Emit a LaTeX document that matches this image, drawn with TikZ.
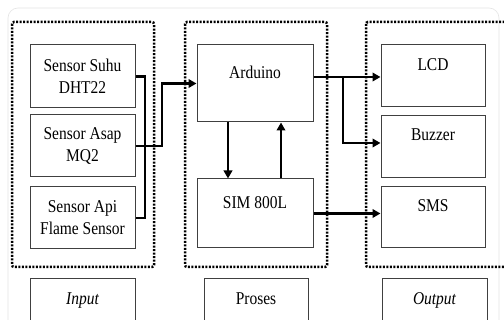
\documentclass[tikz,border=0pt]{standalone}
\usepackage{fontspec}
\setmainfont{Liberation Serif}[FakeStretch=0.86]
\usetikzlibrary{calc,arrows.meta}

\tikzset{
	blok/.style={draw=black!75, line width=1pt, inner sep=0pt, align=center, font=\fontsize{18}{22}\selectfont},
	teks/.style={anchor=base, inner sep=0pt, font=\fontsize{18}{22}\selectfont},
	kelompok/.style={line width=2.5pt, dash pattern=on 2pt off 1.5pt, rounded corners=2pt},
	garis/.style={line width=2.8pt},
	panah/.style={line width=2.8pt, -{Triangle[length=8pt,width=8.5pt]}}
}

\begin{document}
\begin{tikzpicture}[x=1pt,y=-1pt]
		%%%%% START %%%%%
		
		\useasboundingbox (0, 0) rectangle (504, 320);
		\fill[white] (0, 0) rectangle (504, 320);
		\clip (0, 0) rectangle (504, 320);
		\draw[line width=0.6pt, color=black!10, rounded corners=10pt] (8, 8) rectangle (499, 340);
		
		\draw[kelompok] (12, 22) rectangle (154, 267);
		\draw[kelompok] (185, 22) rectangle (327, 267);
		\draw[kelompok] (366, 22) rectangle (520, 267);
		
		\node[blok, minimum width=105, minimum height=63] (suhu) at (82.5, 76.5) {Sensor Suhu\\DHT22};
		\node[blok, minimum width=105, minimum height=62] (asap) at (82.5, 146) {Sensor Asap\\MQ2};
		\node[blok, minimum width=105, minimum height=62] (api) at (82.5, 218) {Sensor Api\\Flame Sensor};
		
		\node[blok, minimum width=116, minimum height=77] (arduino) at (255, 83.5) {};
		\node[teks] (tarduino) at (255, 79) {Arduino};
		\node[blok, minimum width=116, minimum height=69] (sim) at (255, 213.5) {};
		\node[teks] (tsim) at (255, 209) {SIM 800L};
		
		\node[blok, minimum width=104, minimum height=62] (lcd) at (433, 76) {};
		\node[teks] (tlcd) at (433, 71) {LCD};
		\node[blok, minimum width=104, minimum height=62] (buzzer) at (433, 147) {};
		\node[teks] (tbuzzer) at (433, 141) {Buzzer};
		\node[blok, minimum width=104, minimum height=61] (sms) at (433, 217.5) {};
		\node[teks] (tsms) at (433, 212) {SMS};
		
		\node[blok, minimum width=105, minimum height=60] (input) at (82.5, 309) {};
		\node[teks, font=\fontsize{18}{22}\selectfont\itshape] (tinput) at (82.5, 305) {Input};
		\node[blok, minimum width=104, minimum height=60] (proses) at (256, 309) {};
		\node[teks] (tproses) at (256, 305) {Proses};
		\node[blok, minimum width=105, minimum height=60] (output) at (434.5, 309) {};
		\node[teks, font=\fontsize{18}{22}\selectfont\itshape] (toutput) at (434.5, 305) {Output};
		
		\coordinate (gabung) at (145, 146);
		\coordinate (belok) at (162, 146);
		\draw[garis] (suhu.east) -| (gabung) |- (api.east);
		\draw[panah] (asap.east) -- (belok) |- (arduino.west);
		
		\draw[panah] ([xshift=-27pt]arduino.south) -- ([xshift=-27pt]sim.north);
		\draw[panah] ([xshift=26pt]sim.north) -- ([xshift=26pt]arduino.south);
		
		\coordinate (cabang) at (343, 77);
		\coordinate (cabangb) at (343, 143);
		\draw[panah] (arduino.east |- cabang) -- (lcd.west |- cabang);
		\draw[panah] (cabang) -- (cabangb) -- (buzzer.west |- cabangb);
		\draw[panah] (sim.east) -- (sms.west |- sim.east);
		
		%%%%% END %%%%%
\end{tikzpicture}
\end{document}
